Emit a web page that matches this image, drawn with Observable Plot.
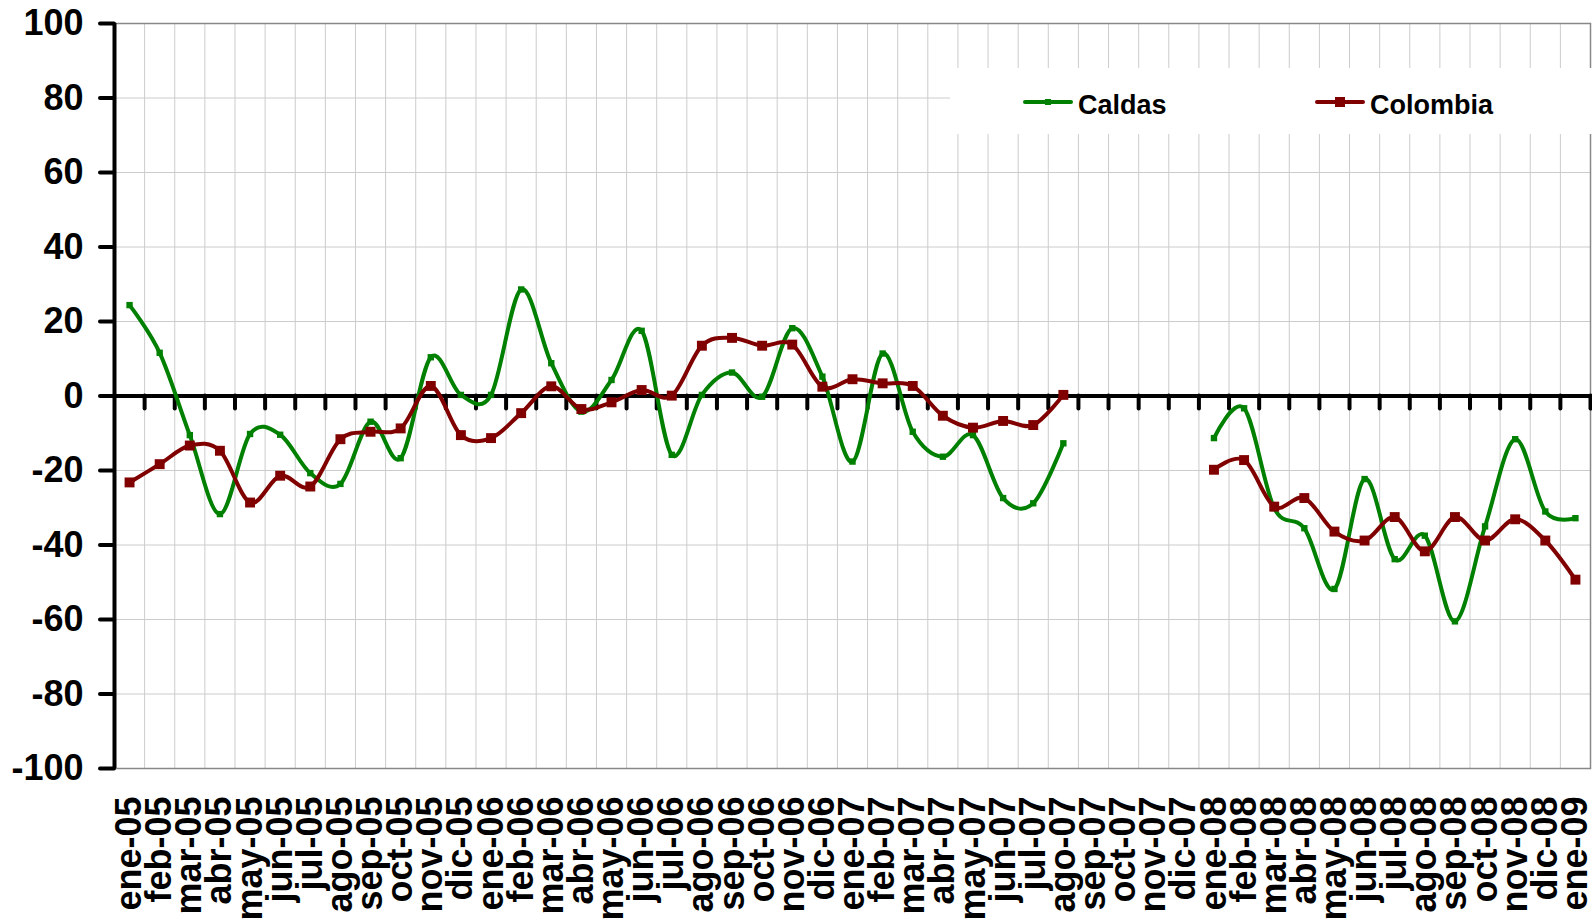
<!DOCTYPE html>
<html><head><meta charset="utf-8">
<script src="https://cdn.jsdelivr.net/npm/d3@7"></script>
<script src="https://cdn.jsdelivr.net/npm/@observablehq/plot@0.6"></script>
<style>
body{margin:0;background:#fff;font-family:"Liberation Sans",Arial,sans-serif;}
#wrap{position:relative;width:1592px;height:923px;overflow:hidden;background:#fff;}
#legend{position:absolute;left:950px;top:68px;width:642px;height:66px;background:#fff;}
.item{position:absolute;top:4px;height:66px;display:flex;align-items:center;font-weight:bold;font-size:27px;color:#000;}
.item svg{margin-right:5px;margin-top:-6px;}
</style></head><body><div id="wrap"><div id="chart"></div><div id="legend"></div></div>
<script>
const months = ["ene-05","feb-05","mar-05","abr-05","may-05","jun-05","jul-05","ago-05","sep-05","oct-05","nov-05","dic-05",
"ene-06","feb-06","mar-06","abr-06","may-06","jun-06","jul-06","ago-06","sep-06","oct-06","nov-06","dic-06",
"ene-07","feb-07","mar-07","abr-07","may-07","jun-07","jul-07","ago-07","sep-07","oct-07","nov-07","dic-07",
"ene-08","feb-08","mar-08","abr-08","may-08","jun-08","jul-08","ago-08","sep-08","oct-08","nov-08","dic-08","ene-09"];
const caldas = [24.4,11.6,-10.5,-31.7,-10.2,-10.4,-20.7,-23.6,-6.9,-16.7,10.4,0.3,
0.3,28.6,8.8,-4.2,4.3,17.5,-15.8,0.3,6.3,-0.2,18.2,5.2,
-17.6,11.4,-9.6,-16.3,-10.5,-27.4,-28.8,-12.7,null,null,null,null,
-11.3,-3.3,-30.1,-35.5,-51.8,-22.3,-43.8,-37.5,-60.5,-35.0,-11.6,-31.0,-32.8];
const colombia = [-23.2,-18.3,-13.3,-14.7,-28.6,-21.4,-24.3,-11.6,-9.6,-8.7,2.7,-10.5,
-11.3,-4.6,2.6,-3.5,-1.7,1.6,0.1,13.5,15.6,13.5,13.8,2.5,
4.5,3.4,2.7,-5.3,-8.5,-6.7,-7.8,0.3,null,null,null,null,
-19.8,-17.2,-29.7,-27.4,-36.4,-38.8,-32.5,-41.7,-32.5,-38.8,-33.1,-38.8,-49.3];
const yTicks = [-100,-80,-60,-40,-20,0,20,40,60,80,100];
const seriesNames = ["Caldas","Colombia"];

const GREEN = "#008000", RED = "#800000";
const rows = months.map((m, i) => ({i, month: m, caldas: caldas[i], colombia: colombia[i]}));
const idx = d3.range(months.length);
const bounds = d3.range(1, months.length + 1).map(i => i - 0.5);
const yDomain = [d3.min(yTicks), d3.max(yTicks)];

const chart = Plot.plot({
  width: 1592, height: 923,
  marginLeft: 114, marginRight: 2, marginTop: 23, marginBottom: 155,
  x: {type: "linear", domain: [-0.5, months.length - 0.5]},
  y: {domain: yDomain},
  style: {fontFamily: '"Liberation Sans", Arial, sans-serif', color: "#000", background: "#fff", overflow: "visible"},
  marks: [
    Plot.ruleY(yTicks, {stroke: "#cccccc", strokeWidth: 1}),
    Plot.ruleX(bounds.slice(0, -1), {stroke: "#cccccc", strokeWidth: 1}),
    Plot.frame({stroke: "#888888", strokeWidth: 1.5}),
    Plot.ruleY([0], {stroke: "#000", strokeWidth: 4}),
    Plot.ruleX(bounds, {y1: 0, y2: 0, insetBottom: -13, stroke: "#000", strokeWidth: 4, strokeLinecap: "round"}),
    Plot.ruleX([-0.5], {y1: yDomain[0], y2: yDomain[1], stroke: "#000", strokeWidth: 4}),
    Plot.axisY(yTicks, {label: null, tickSize: 14, tickPadding: 17, strokeWidth: 4, strokeLinecap: "round", fontSize: 36, fontWeight: "bold", tickFormat: d => String(d)}),
    Plot.axisX(idx, {label: null, tickFormat: i => months[i], tickSize: 0, tickPadding: 28, tickRotate: -90, fontSize: 36, fontWeight: "bold"}),
    Plot.lineY(rows, {x: "i", y: "caldas", curve: "cardinal", stroke: GREEN, strokeWidth: 4}),
    Plot.dot(rows, {x: "i", y: "caldas", symbol: "square", r: 3.6, fill: GREEN}),
    Plot.lineY(rows, {x: "i", y: "colombia", curve: "cardinal", stroke: RED, strokeWidth: 4}),
    Plot.dot(rows, {x: "i", y: "colombia", symbol: "square", r: 5.6, fill: RED})
  ]
});
document.getElementById("chart").appendChild(chart);

// legend
const legend = document.getElementById("legend");
const legendColors = [GREEN, RED];
const legendLeft = [73, 365];
const markerSize = [6, 10];
seriesNames.forEach((name, k) => {
  const div = document.createElement("div");
  div.className = "item";
  div.style.left = legendLeft[k] + "px";
  const s = markerSize[k];
  div.innerHTML = `<svg width="50" height="14" viewBox="0 0 50 14"><line x1="2" y1="7" x2="48" y2="7" stroke="${legendColors[k]}" stroke-width="4" stroke-linecap="round"/><rect x="${25 - s/2}" y="${7 - s/2}" width="${s}" height="${s}" fill="${legendColors[k]}"/></svg><span>${name}</span>`;
  legend.appendChild(div);
});
</script>
</body></html>
